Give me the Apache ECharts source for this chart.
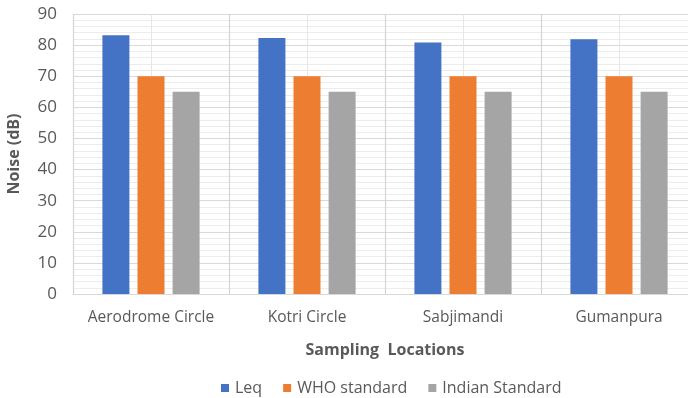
<!DOCTYPE html>
<html>
<head>
<meta charset="utf-8">
<style>
  html, body { margin: 0; padding: 0; background: #ffffff; }
  #chart { width: 688px; height: 398px; }
</style>
<script src="https://cdn.jsdelivr.net/npm/echarts@6/dist/echarts.min.js"></script>
</head>
<body>
<div id="chart"></div>
<script>
// Sampling sites and measured / permitted noise levels (dB)
const locations = ['Aerodrome Circle', 'Kotri Circle', 'Sabjimandi', 'Gumanpura'];
const leq = [83.2, 82.3, 80.8, 81.9];
const whoStandard = [70, 70, 70, 70];
const indianStandard = [65, 65, 65, 65];

const FONT = '"Open Sans", Lato, sans-serif';
const TEXT = '#595959';

const chart = echarts.init(document.getElementById('chart'), null, { renderer: 'canvas' });

chart.setOption({
  animation: false,
  textStyle: { fontFamily: FONT },
  // plot area runs slightly past the right edge of the canvas
  grid: {
    left: 73, width: 624, top: 14, height: 280,
    containLabel: false,
    outerBoundsMode: 'none'
  },
  legend: {
    top: 375,
    left: 216,
    itemWidth: 8,
    itemHeight: 8,
    itemGap: 21,
    icon: 'rect',
    textStyle: { fontFamily: FONT, fontSize: 16, color: TEXT, padding: [0, 0, 0, 1] },
    data: ['Leq', 'WHO standard', 'Indian Standard']
  },
  xAxis: [
    {
      type: 'category',
      data: locations,
      name: 'Sampling  Locations',
      nameLocation: 'middle',
      nameGap: 48,
      nameTextStyle: { fontFamily: FONT, fontSize: 16, fontWeight: 'bold', color: TEXT },
      axisLine: { lineStyle: { color: '#d9d9d9' } },
      axisTick: { show: false },
      axisLabel: { interval: 0, fontFamily: FONT, fontSize: 15.5, color: TEXT, margin: 16 },
      splitLine: { show: true, interval: 0, lineStyle: { color: '#d4d4d4', width: 1.2 } },
      z: 3
    },
    {
      // lighter vertical guides at category centres and edges
      type: 'value',
      min: 0,
      max: 8,
      interval: 1,
      show: true,
      axisLine: { show: false },
      axisTick: { show: false },
      axisLabel: { show: false },
      splitLine: { show: true, lineStyle: { color: '#e6e6e6' } }
    }
  ],
  yAxis: {
    type: 'value',
    min: 0,
    max: 90,
    interval: 10,
    name: 'Noise (dB)',
    nameLocation: 'middle',
    nameGap: 51,
    nameRotate: 90,
    nameTextStyle: { fontFamily: FONT, fontSize: 16, fontWeight: 'bold', color: TEXT },
    axisLine: { show: false },
    axisTick: { show: false },
    axisLabel: { fontFamily: FONT, fontSize: 17, color: TEXT, margin: 16 },
    splitLine: { show: true, lineStyle: { color: '#d9d9d9' } },
    minorTick: { show: false, splitNumber: 5 },
    minorSplitLine: { show: true, lineStyle: { color: '#ececec' } }
  },
  series: [
    {
      name: 'Leq', type: 'bar', data: leq,
      barWidth: 27, barGap: '30%',
      itemStyle: { color: '#4472c4' }, z: 5
    },
    {
      name: 'WHO standard', type: 'bar', data: whoStandard,
      barWidth: 27, barGap: '30%',
      itemStyle: { color: '#ed7d31' }, z: 5
    },
    {
      name: 'Indian Standard', type: 'bar', data: indianStandard,
      barWidth: 27, barGap: '30%',
      itemStyle: { color: '#a5a5a5' }, z: 5
    }
  ]
});
</script>
</body>
</html>
